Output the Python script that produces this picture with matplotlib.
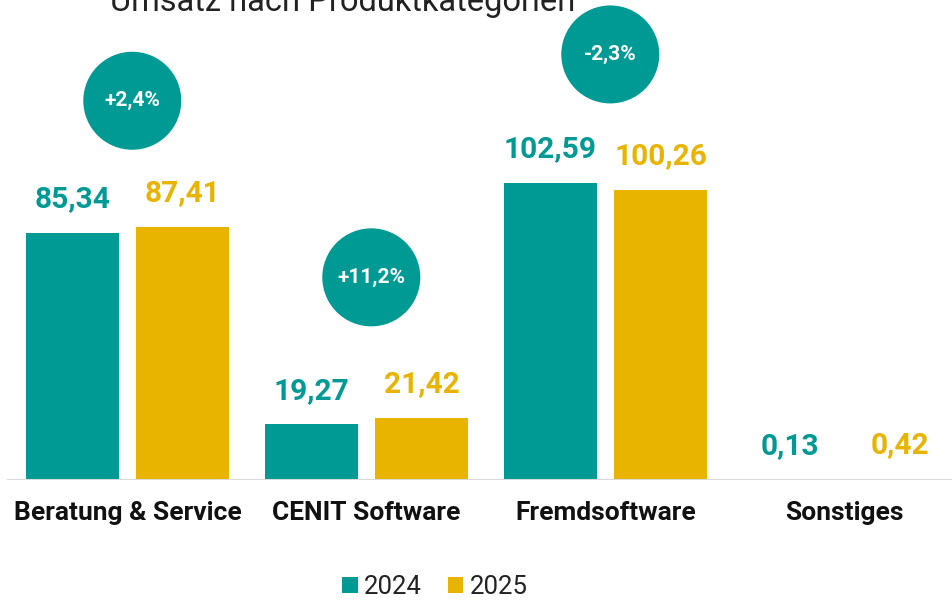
import matplotlib.pyplot as plt
import numpy as np

# Umsatz nach Produktkategorien (Mio. EUR)
categories = ['Beratung & Service', 'CENIT Software', 'Fremdsoftware', 'Sonstiges']
values_2024 = [85.34, 19.27, 102.59, 0.13]
values_2025 = [87.41, 21.42, 100.26, 0.42]
years = ['2024', '2025']
bubble_groups = [0, 1, 2]
bubble_y = [131, 70, 147]

TEAL = '#009a94'
GOLD = '#e8b400'


def fmt(v):
	return '{:.2f}'.format(v).replace('.', ',')


def main():
	plt.rcParams['font.family'] = ['Roboto', 'DejaVu Sans']
	fig = plt.figure(figsize=(9.53, 6.03), dpi=100)
	ax = fig.add_axes([0, 123 / 603, 1, 480 / 603])

	x = np.arange(len(categories))
	w = 93 / 239
	off = 55 / 239
	b1 = ax.bar(x - off, values_2024, w, color=TEAL, label=years[0], zorder=2)
	b2 = ax.bar(x + off, values_2025, w, color=GOLD, label=years[1], zorder=2)

	ax.set_xlim(-127.5 / 239, (953 - 127.5) / 239)
	ax.set_ylim(0, 480 / 2.895)
	ax.axhline(0, xmin=8 / 953, xmax=1, color='#d9d9d9', lw=1.5, zorder=3)

	for bars, vals, col in [(b1, values_2024, TEAL), (b2, values_2025, GOLD)]:
		for rect, v in zip(bars, vals):
			ax.annotate(fmt(v), (rect.get_x() + rect.get_width() / 2, v),
						xytext=(0, 14), textcoords='offset points',
						ha='center', va='bottom', fontsize=21.5, fontweight='bold',
						color=col)

	# change bubbles
	for g, by in zip(bubble_groups, bubble_y):
		pct = (values_2025[g] / values_2024[g] - 1) * 100
		label = '{:+.1f}%'.format(pct).replace('.', ',')
		ax.scatter([g + 0.02], [by], s=(2 * 49 * 0.72) ** 2, color=TEAL, zorder=4,
				   edgecolors='none')
		ax.text(g + 0.02, by, label, ha='center', va='center', color='white',
				fontsize=15, fontweight='bold', zorder=5)

	for xi, c in zip(x, categories):
		fig.text((127.5 + 239 * xi) / 953, 1 - 513 / 603, c, ha='center', va='center',
				 fontsize=19, fontweight='bold', color='#111111')

	fig.text(110 / 953, 1 - 11 / 603, 'Umsatz nach Produktkategorien', ha='left',
			 va='baseline', fontsize=23.5, color='#222222')

	leg = fig.legend(handles=[b1, b2], loc='center', bbox_to_anchor=(435 / 953, 1 - 587 / 603),
					 ncol=2, frameon=False, fontsize=18.5, handlelength=0.6, handleheight=0.6,
					 handletextpad=0.25, columnspacing=1.0)
	for t in leg.get_texts():
		t.set_color('#222222')

	ax.axis('off')
	fig.savefig('out.png', dpi=100)


if __name__ == "__main__":
	main()
